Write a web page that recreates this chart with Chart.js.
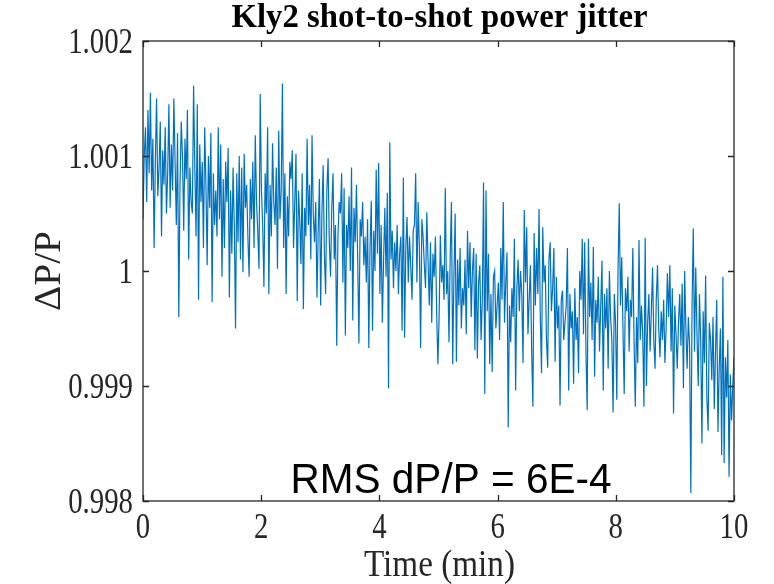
<!DOCTYPE html>
<html><head><meta charset="utf-8">
<script src="https://cdn.jsdelivr.net/npm/chart.js@4/dist/chart.umd.min.js"></script>
<style>html,body{margin:0;padding:0;background:#fff}#c{display:block}</style>
</head><body>
<canvas id="c" width="774" height="584"></canvas>
<script>
const chartTitle = 'Kly2 shot-to-shot power jitter';
const xAxisTitle = 'Time (min)';
const yAxisTitle = '\u0394P/P';
const annotationText = 'RMS dP/P = 6E-4';
const xTicks = [0, 2, 4, 6, 8, 10];
const yTicks = [0.998, 0.999, 1.000, 1.001, 1.002];
const durationMin = 10;
const deltaPoverP = [
1.00045,1.001,1.00125,1.0006,1.0014,1.00085,1.00155,1.0007,1.00115,1.0002,1.00095,1.0015,1.00065,1.0009,1.0013,1.0003,1.00105,1.00075,1.00125,1.0005,
1.00085,1.00145,1.00055,1.0011,1.0007,1.0015,1.00095,1.0004,1.0012,0.9996,1.00075,1.0013,1.001,1.00035,1.00115,1.0008,1.0014,1.0001,1.0009,1.0006,
1.0005,1.00161,1.0009,1.0003,1.00145,0.99975,1.0011,1.0006,1.00095,1.0002,1.00125,1.00075,1.00005,1.001,1.00055,1.0012,0.99973,1.00085,1.0004,1.0007,
1.0003,1.00125,1.00045,1.0011,0.99995,1.0008,1.0002,1.00095,1.0006,1.00107,0.99977,1.0007,1.00015,1.0009,1.0004,0.9995,1.00085,1.00025,1.001,1.0001,
1.0009,0.99999,1.00102,1.00055,1.00075,1.0003,0.99995,1.0008,1.00045,1.00095,1.0002,1.00118,1.0006,1.00035,1.00002,1.00154,1.0007,1.0004,0.99986,1.00085,
1.0005,1.00125,0.9998,1.00075,1.0003,1.00111,1.0006,1.0004,1.0009,1.00002,1.00122,1.00045,1.0007,1.00163,1.0002,1.00085,0.9998,1.00065,1.0003,1.00095,
1.0008,1.00105,1.0002,1.0006,1.00102,0.99974,1.0007,1.00045,1.00006,1.00085,0.99967,1.00055,1.0003,1.00115,1.0004,1.00075,1.0001,1.00118,1.0005,1.00025,
1.0006,0.99977,1.00035,1.0008,0.9997,1.0005,1.00092,1.00015,0.9998,1.0007,1.00098,1.00025,0.99995,1.00055,1.00085,1.0001,1.0004,0.99935,1.0003,1.0006,
1.0005,1.00085,0.9999,1.00072,0.99944,1.0004,1.0002,1.00065,1.0,1.0009,0.99957,1.00055,1.00025,1.00075,1.0001,0.99937,1.00045,1.0003,1.0006,1.00005,
1.0003,0.9999,1.00045,0.99933,1.0002,1.00061,0.99948,1.00035,1.0,1.00088,1.00015,1.00094,0.9998,1.0004,0.99955,1.0001,1.00055,0.99995,1.00068,0.99898,
1.00112,1.0001,1.00035,0.99985,1.00025,1.0,1.0004,0.9998,1.00015,1.0003,0.99948,1.00081,0.99942,1.0002,1.00047,0.9999,1.0003,1.00005,0.99975,1.00035,
1.0004,1.00085,0.9999,1.0006,1.0002,0.99933,1.00045,1.0003,1.00005,0.99985,1.00051,1.0001,0.9997,1.00025,0.99955,1.00015,0.99995,1.0003,0.99965,0.99919,
0.9996,1.00031,0.9999,1.00005,0.99975,1.00072,0.9998,1.0,0.99938,1.00015,1.0006,0.99919,0.99995,1.0005,0.99921,1.0001,0.9997,1.0002,0.9995,0.99985,
0.9997,1.0001,0.99945,1.00035,0.99985,1.00025,0.9996,1.0,1.0002,0.99931,1.00015,0.99924,0.9999,1.00005,0.9994,0.99975,1.00077,0.99893,1.0007,0.99965,
1.00015,0.99919,0.9998,0.99912,0.99995,1.0,0.9995,0.9997,0.9999,0.9994,1.0002,0.99975,1.0006,0.99955,0.9999,1.00016,0.99864,0.9997,0.99938,0.99985,
0.9996,1.00028,0.99896,0.99985,1.0001,0.99965,1.0,0.9998,0.9992,1.00053,0.9999,1.00038,0.99945,0.99975,1.00005,0.99931,0.99882,1.00033,0.9997,1.0002,
0.9998,1.00054,0.9996,0.99911,1.00038,0.9999,1.00005,0.9994,0.99916,1.0001,1.00025,0.99965,0.99985,1.0002,0.99921,0.99995,0.9995,0.9997,0.99883,0.99975,
0.99983,0.9994,0.99955,0.9997,1.0002,0.99896,0.9998,0.9995,0.99965,0.99902,0.99985,0.9994,0.9996,0.99911,1.0,0.99975,1.00028,0.99945,1.00025,0.9993,
0.99879,1.00028,0.9996,0.9999,0.9994,1.00021,0.99908,0.99975,0.99955,0.99995,0.9993,0.9997,1.00009,0.99896,0.9998,0.9995,0.99985,0.99915,1.0,0.9996,
0.9994,0.99877,0.9998,0.99955,0.99888,1.0,1.00059,0.9997,1.00012,0.9995,0.99893,0.99985,0.99965,0.99995,0.9993,0.99975,0.9996,1.0002,0.9994,0.99882,
0.9996,0.9992,1.00027,0.9994,0.9997,0.99945,0.99882,1.00029,0.999,0.99955,0.9998,0.9993,0.99965,1.00003,0.9994,0.99915,0.99975,1.00005,0.9995,0.99925,
0.99965,0.9994,0.99975,0.9992,0.9995,0.99998,0.9996,1.00005,0.9993,0.99985,0.99876,0.9997,0.99945,0.99915,0.99955,0.9998,0.99935,0.99989,0.99898,1.0,
0.9995,0.99915,0.9996,0.99935,0.99807,0.9997,1.00037,0.9993,1.00003,0.99945,0.999,0.9998,0.9994,0.9985,0.99965,0.9992,0.99996,0.9989,0.99861,0.99955,
0.9994,0.99905,0.9996,0.9988,0.9993,0.99975,0.9986,0.99915,0.9995,0.9984,0.99995,0.99833,0.99925,0.9989,0.9994,0.99821,0.9991,0.9987,0.999,0.99925
];
const timeMin = deltaPoverP.map((_, i) => i * durationMin / (deltaPoverP.length - 1));

const AXIS_COLOR = '#262626';
const SERIF = "'Liberation Serif','Times New Roman',serif";

// draw text with alphabetic baseline, horizontally squeezed by sx (text looks taller than wide in the reference)
function drawText(ctx, text, x, y, font, opts) {
  opts = opts || {};
  ctx.save();
  ctx.font = font;
  const w = ctx.measureText(text).width;
  let sx = opts.sx || 1;
  if (opts.width) sx = opts.width / w;
  ctx.translate(x, y);
  if (opts.rotate) ctx.rotate(-Math.PI / 2);
  ctx.scale(sx, 1);
  ctx.textAlign = opts.align || 'center';
  ctx.textBaseline = 'alphabetic';
  ctx.fillText(text, 0, 0);
  ctx.restore();
}

const fmtY = v => String(Number(Number(v).toFixed(3)));

const matlabAxes = {
  id: 'matlabAxes',
  afterDraw(chart) {
    const ctx = chart.ctx;
    const a = chart.chartArea;
    const xs = chart.scales.x, ys = chart.scales.y;
    ctx.save();
    ctx.strokeStyle = AXIS_COLOR;
    ctx.lineWidth = 1.3;
    ctx.strokeRect(a.left, a.top, a.right - a.left, a.bottom - a.top);
    const tl = 6;
    ctx.beginPath();
    xTicks.forEach(v => {
      const px = Math.round(xs.getPixelForValue(v)) + 0.5;
      ctx.moveTo(px, a.bottom); ctx.lineTo(px, a.bottom - tl);
      ctx.moveTo(px, a.top); ctx.lineTo(px, a.top + tl);
    });
    yTicks.forEach(v => {
      const py = Math.round(ys.getPixelForValue(v)) + 0.5;
      ctx.moveTo(a.left, py); ctx.lineTo(a.left + tl, py);
      ctx.moveTo(a.right, py); ctx.lineTo(a.right - tl, py);
    });
    ctx.stroke();

    ctx.fillStyle = AXIS_COLOR;
    const tickFont = "36px " + SERIF;
    xTicks.forEach(v => {
      drawText(ctx, String(v), xs.getPixelForValue(v), a.bottom + 37, tickFont, { sx: 0.8 });
    });
    yTicks.forEach(v => {
      drawText(ctx, fmtY(v), a.left - 10, ys.getPixelForValue(v) + 12, tickFont, { sx: 0.8, align: 'right' });
    });

    ctx.fillStyle = '#000';
    drawText(ctx, chartTitle, (a.left + a.right) / 2 + 1, 27, "bold 34px " + SERIF, { width: 416 });
    ctx.fillStyle = AXIS_COLOR;
    drawText(ctx, xAxisTitle, (a.left + a.right) / 2 + 1, 576, "37px " + SERIF, { width: 151 });
    drawText(ctx, yAxisTitle, 60, (a.top + a.bottom) / 2, "37px " + SERIF, { width: 80, rotate: true });
    ctx.fillStyle = '#000';
    drawText(ctx, annotationText, 451, 493, "43px 'Liberation Sans', Arial, sans-serif", { width: 321 });
    ctx.restore();
  }
};

new Chart(document.getElementById('c'), {
  type: 'line',
  data: {
    datasets: [{
      data: timeMin.map((t, i) => ({ x: t, y: deltaPoverP[i] })),
      borderColor: '#0072BD',
      borderWidth: 1.2,
      pointRadius: 0,
      tension: 0,
      fill: false
    }]
  },
  options: {
    responsive: false,
    animation: false,
    events: [],
    layout: { padding: { left: 0, right: 40, top: 41, bottom: 0 } },
    plugins: { legend: { display: false }, tooltip: { enabled: false }, title: { display: false } },
    scales: {
      x: {
        type: 'linear', min: 0, max: durationMin,
        afterBuildTicks: s => { s.ticks = xTicks.map(v => ({ value: v })); },
        afterFit: s => { s.height = 83; },
        grid: { display: false, drawTicks: false },
        border: { display: false },
        ticks: { display: false }
      },
      y: {
        type: 'linear', min: 0.998, max: 1.002,
        afterBuildTicks: s => { s.ticks = yTicks.map(v => ({ value: v })); },
        afterFit: s => { s.width = 143; },
        grid: { display: false, drawTicks: false },
        border: { display: false },
        ticks: { display: false, callback: fmtY }
      }
    }
  },
  plugins: [matlabAxes]
});
</script>
</body></html>
